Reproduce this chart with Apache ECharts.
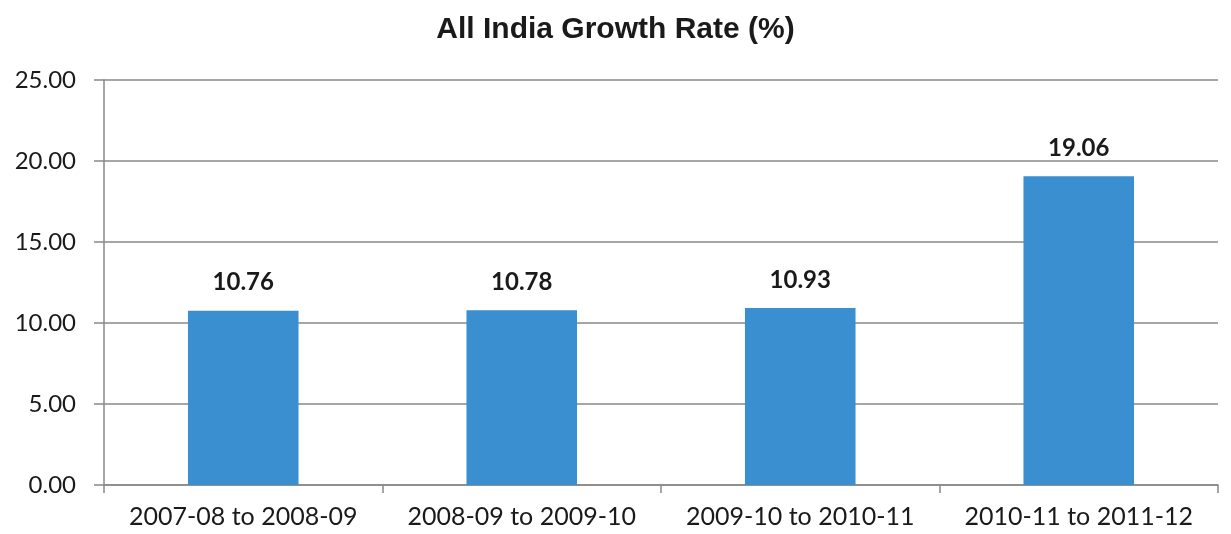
<!DOCTYPE html>
<html>
<head>
<meta charset="utf-8">
<script src="https://cdn.jsdelivr.net/npm/echarts@6/dist/echarts.min.js"></script>
<style>
  html, body { margin: 0; padding: 0; background: #fff; }
  #chart { width: 1231px; height: 534px; }
</style>
</head>
<body>
<div id="chart"></div>
<script>
// Period-on-period growth of the all-India figure
const periods = ['2007-08 to 2008-09', '2008-09 to 2009-10', '2009-10 to 2010-11', '2010-11 to 2011-12'];
const growthRate = [10.76, 10.78, 10.93, 19.06];
const titleText = 'All India Growth Rate (%)';

const chart = echarts.init(document.getElementById('chart'));
const gridColor = '#888888';
const textColor = '#1a1a1a';

chart.setOption({
  animation: false,
  backgroundColor: '#ffffff',
  title: {
    text: titleText,
    left: 'center',
    top: 10,
    textStyle: { fontFamily: 'Liberation Sans', fontWeight: 'bold', fontSize: 30, color: textColor }
  },
  grid: { left: 104, right: 13, top: 80, bottom: 49 },
  xAxis: {
    type: 'category',
    data: periods,
    axisLine: { show: true, lineStyle: { color: gridColor, width: 1.5 } },
    axisTick: { show: true, interval: 0, length: 8, lineStyle: { color: gridColor, width: 1.5 } },
    axisLabel: {
      interval: 0,
      hideOverlap: false,
      margin: 19,
      fontFamily: 'Lato',
      fontSize: 25,
      color: textColor
    }
  },
  yAxis: {
    type: 'value',
    min: 0,
    max: 25,
    interval: 5,
    axisLine: { show: true, lineStyle: { color: gridColor, width: 1.5 } },
    axisTick: { show: true, length: 10, lineStyle: { color: gridColor, width: 1.5 } },
    splitLine: { show: true, lineStyle: { color: gridColor, width: 1.5 } },
    axisLabel: {
      margin: 28,
      fontFamily: 'Lato',
      fontSize: 24,
      color: textColor,
      formatter: v => v.toFixed(2)
    }
  },
  series: [{
    type: 'bar',
    data: growthRate,
    barWidth: '39.7%',
    itemStyle: { color: '#3a8fd1' },
    label: {
      show: true,
      position: 'top',
      distance: 16,
      fontFamily: 'Lato',
      fontWeight: 'bold',
      fontSize: 24,
      color: textColor,
      formatter: p => p.value.toFixed(2)
    }
  }]
});
</script>
</body>
</html>
